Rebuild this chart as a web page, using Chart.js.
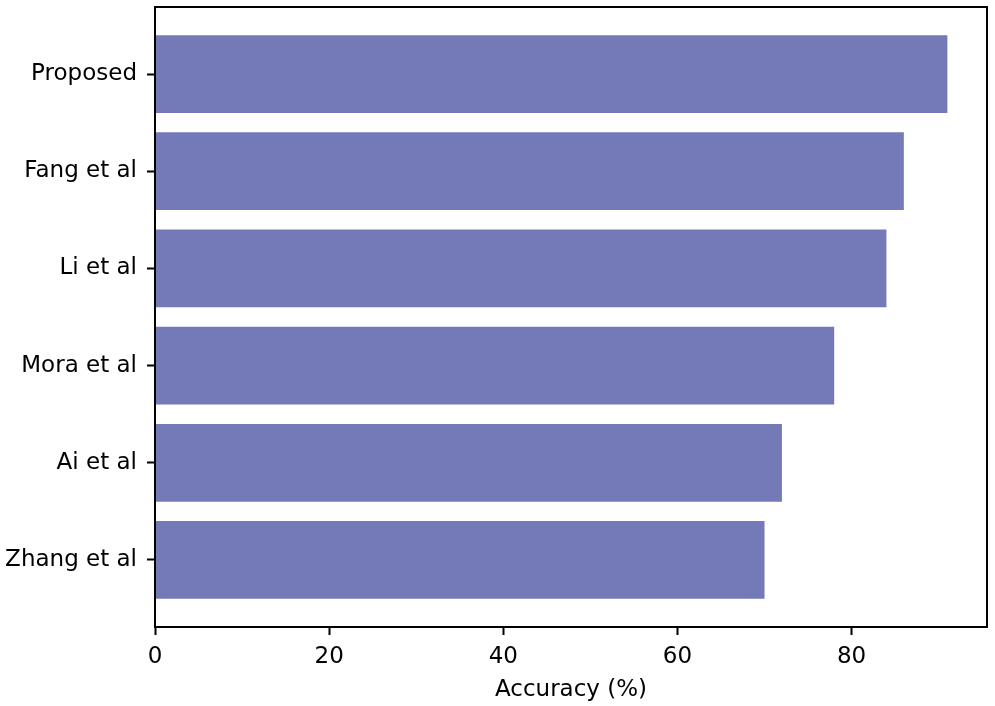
<!DOCTYPE html>
<html>
<head>
<meta charset="utf-8">
<script src="https://cdn.jsdelivr.net/npm/chart.js@4/dist/chart.umd.min.js"></script>
<style>
  body { margin: 0; background: #fff; }
  canvas { display: block; }
</style>
</head>
<body>
<canvas id="myChart" width="995" height="706"></canvas>
<script>
'use strict';

// ***** DATA (bottom to top, like matplotlib barh) *****
let methods = ['Zhang et al', 'Ai et al', 'Mora et al', 'Li et al', 'Fang et al', 'Proposed'];
let accuracy = [70, 72, 78, 84, 86, 91];
let xTicks = [0, 20, 40, 60, 80];

// ***** STYLE *****
let barColor = '#7479b8';
let fontFamily = 'DejaVu Sans';
let fontSize = 23;

// draws the top and right spines like matplotlib's box
let boxPlugin = {
  id: 'box',
  afterDraw(chart) {
    let a = chart.chartArea;
    let c = chart.ctx;
    c.save();
    c.strokeStyle = '#000';
    c.lineWidth = 2;
    c.strokeRect(a.left, a.top, a.right - a.left, a.bottom - a.top);
    c.restore();
  }
};

let points = [];
for (let i = 0; i < methods.length; i++) {
  points.push({ x: accuracy[i], y: i });
}

let ctx = document.getElementById('myChart');

new Chart(ctx, {
  type: 'bar',
  data: {
    datasets: [{
      label: 'Accuracy',
      data: points,
      backgroundColor: barColor,
      borderWidth: 0,
      categoryPercentage: 1,
      barPercentage: 0.8
    }]
  },
  options: {
    indexAxis: 'y',
    responsive: false,
    devicePixelRatio: 1,
    animation: false,
    layout: { padding: { top: 7, right: 8, left: 0, bottom: 0 } },
    plugins: { legend: { display: false }, tooltip: { enabled: false } },
    scales: {
      y: {
        type: 'linear',
        min: -0.69,
        max: 5.69,
        offset: false,
        afterBuildTicks(scale) {
          scale.ticks = methods.map((m, i) => ({ value: i }));
        },
        afterFit(scale) {
          scale.width = 155;
          // labels sit well inside the axis, no extra room needed
          scale.paddingTop = 0;
          scale.paddingBottom = 0;
        },
        grid: { offset: false, drawOnChartArea: false, drawTicks: true, tickLength: 8, tickColor: '#000', tickWidth: 2 },
        border: { display: true, color: '#000', width: 2 },
        ticks: {
          color: '#000',
          padding: 10,
          font: { family: fontFamily, size: fontSize },
          callback: (v) => methods[v]
        }
      },
      x: {
        type: 'linear',
        min: 0,
        max: 95.55,
        afterBuildTicks(scale) {
          scale.ticks = xTicks.map(v => ({ value: v }));
        },
        afterFit(scale) { scale.height = 706 - 627; },
        grid: { drawOnChartArea: false, drawTicks: true, tickLength: 8, tickColor: '#000', tickWidth: 2 },
        border: { display: true, color: '#000', width: 2 },
        ticks: {
          color: '#000',
          padding: 8,
          maxRotation: 0,
          font: { family: fontFamily, size: fontSize }
        },
        title: {
          display: true,
          text: 'Accuracy (%)',
          color: '#000',
          font: { family: fontFamily, size: fontSize },
          padding: { top: 0, bottom: 2 }
        }
      }
    }
  },
  plugins: [boxPlugin]
});
</script>
</body>
</html>
